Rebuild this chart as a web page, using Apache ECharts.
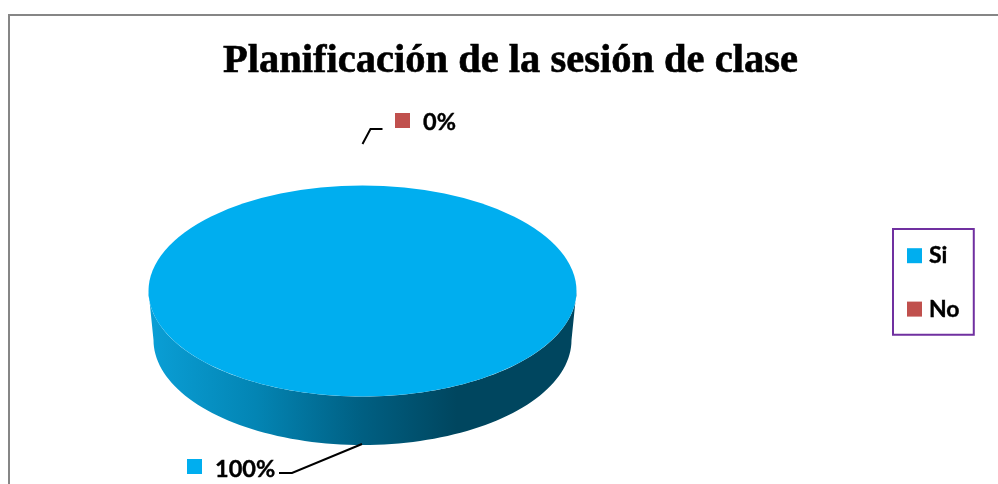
<!DOCTYPE html>
<html>
<head>
<meta charset="utf-8">
<style>html,body{margin:0;padding:0;background:#fff;overflow:hidden}#c{width:998px;height:484px}</style>
<script src="https://cdn.jsdelivr.net/npm/echarts@6/dist/echarts.min.js"></script>
</head>
<body>
<div id="c"></div>
<script>
var titleText = 'Planificación de la sesión de clase';
var categories = ['Si', 'No'];
var values = [100, 0];
var colors = ['#00AEEF', '#C0504D'];
var total = values.reduce(function (a, b) { return a + b; }, 0);

var chart = echarts.init(document.getElementById('c'), null, { renderer: 'canvas' });

var LABEL_FONT = 'Lato, Carlito, sans-serif';
var disc = { cx: 362.5, cy: 291, rx: 214, ry: 105.5, bcy: 340, brx: 209, bry: 105 };
var labelLayout = [
  { box: [187, 459], text: [215, 469], line: [[362, 444], [292, 473], [279, 473]] },
  { box: [395, 113], text: [423, 122], line: [[362.5, 144], [370.5, 129], [382.5, 129]] }
];

function wallPoints() {
  var pts = [], i, a;
  for (i = 0; i <= 90; i++) {
    a = Math.PI * i / 90;
    pts.push([disc.cx + disc.rx * Math.cos(a), disc.cy + disc.ry * Math.sin(a)]);
  }
  for (i = 90; i >= 0; i--) {
    a = Math.PI * i / 90;
    pts.push([disc.cx + disc.brx * Math.cos(a), disc.bcy + disc.bry * Math.sin(a)]);
  }
  return pts;
}

function makeRender(index) {
  return function (params, api) {
    var value = api.value(0);
    var before = 0;
    for (var i = 0; i < index; i++) before += values[i];
    var start = -Math.PI / 2 + before / total * Math.PI * 2;
    var end = start + value / total * Math.PI * 2;
    var lay = labelLayout[index];
    var children = [];
    if (value > 0) {
      children.push({
        type: 'polygon',
        shape: { points: wallPoints() },
        style: {
          fill: new echarts.graphic.LinearGradient(0, 0, 1, 0, [
            { offset: 0, color: '#0A9FD6' },
            { offset: 0.25, color: '#0385B4' },
            { offset: 0.5, color: '#005F82' },
            { offset: 0.72, color: '#00465F' },
            { offset: 1, color: '#00465F' }
          ])
        }
      });
      children.push({
        type: 'sector',
        x: disc.cx, y: disc.cy,
        scaleY: disc.ry / disc.rx,
        shape: { cx: 0, cy: 0, r: disc.rx, r0: 0, startAngle: start, endAngle: end },
        style: { fill: colors[index] }
      });
    }
    children.push({
      type: 'polyline',
      shape: { points: lay.line },
      style: { fill: 'none', stroke: '#000', lineWidth: 2 }
    });
    children.push({
      type: 'rect',
      shape: { x: lay.box[0], y: lay.box[1], width: 15, height: 15 },
      style: { fill: colors[index] }
    });
    children.push({
      type: 'text',
      x: lay.text[0], y: lay.text[1],
      style: {
        text: Math.round(value / total * 100) + '%',
        font: 'bold 23.5px ' + LABEL_FONT,
        fill: '#000', stroke: '#000', lineWidth: 0.4,
        textAlign: 'left', textVerticalAlign: 'middle'
      }
    });
    return { type: 'group', children: children };
  };
}

chart.setOption({
  animation: false,
  backgroundColor: '#fff',
  title: {
    text: titleText,
    left: 505.5, top: 36, textAlign: 'center',
    textStyle: { fontFamily: 'Liberation Serif', fontWeight: 'bold', fontSize: 40.5, color: '#000',
      textBorderColor: '#000', textBorderWidth: 0.6 }
  },
  legend: {
    orient: 'vertical',
    left: 893, top: 229,
    padding: [15, 14, 14, 14],
    itemGap: 30,
    itemWidth: 15, itemHeight: 15,
    icon: 'rect',
    borderColor: '#7030A0', borderWidth: 2,
    data: categories,
    selectedMode: false,
    textStyle: { fontFamily: LABEL_FONT, fontWeight: 'bold', fontSize: 23, color: '#000',
      textBorderColor: '#000', textBorderWidth: 0.4, padding: [0, 0, 0, 2] }
  },
  graphic: [{
    type: 'rect', silent: true, z: -1,
    shape: { x: 9, y: 15, width: 1020, height: 520 },
    style: { fill: '#fff', stroke: '#868686', lineWidth: 2 }
  }],
  series: categories.map(function (name, i) {
    return {
      type: 'custom',
      name: name,
      coordinateSystem: 'none',
      itemStyle: { color: colors[i] },
      data: [[values[i]]],
      renderItem: makeRender(i),
      silent: true
    };
  })
});
</script>
</body>
</html>
